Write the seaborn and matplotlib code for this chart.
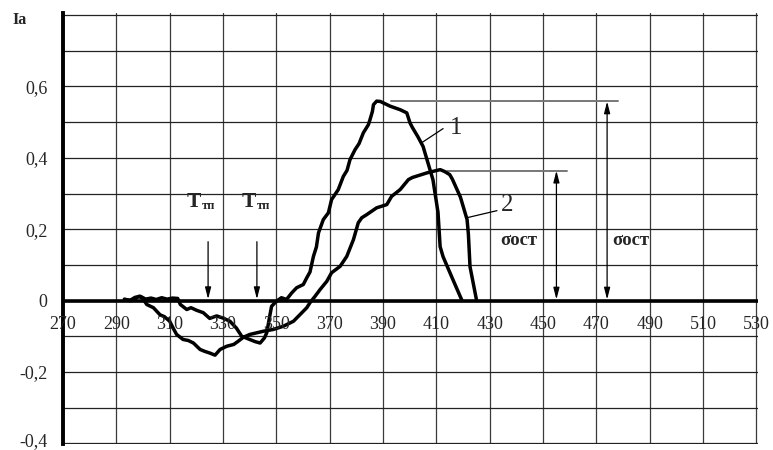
import matplotlib
matplotlib.use("Agg")
import matplotlib.pyplot as plt
import matplotlib.transforms as mtransforms
import seaborn as sns
import pandas as pd

# Temperature (x) and Ia (y) for the two samples
temp_1 = [293, 295, 297, 299, 301, 303, 305, 307, 309, 311, 313, 314, 316.4, 318, 320,
          322.6, 325, 327.6, 330, 332.6, 335, 337, 340, 342, 343.9, 345.5, 346.4, 347.6,
          348.2, 350, 351.9, 353.8, 355.7, 357.6, 360.1, 361.4, 362.6, 363.9, 365, 365.8,
          367.6, 369.5, 370.7, 373.2, 375.1, 376.5, 377.6, 379.5, 381, 382.6, 384.5,
          385.1, 386, 386.4, 387.6, 389, 390.1, 392.6, 396.4, 398.9, 400.1, 401, 403,
          405, 408.7, 410.6, 411.4, 412.5, 416, 419.6]
ia_1 = [0.004, 0.000, 0.009, 0.012, 0.004, 0.007, 0.003, 0.008, 0.004, 0.007, 0.006,
        -0.011, -0.025, -0.020, -0.027, -0.034, -0.050, -0.043, -0.049, -0.058, -0.077,
        -0.100, -0.109, -0.115, -0.119, -0.105, -0.090, -0.040, -0.016, -0.002, 0.008,
        0.003, 0.021, 0.036, 0.045, 0.064, 0.080, 0.124, 0.150, 0.190, 0.227, 0.246,
        0.283, 0.311, 0.348, 0.365, 0.395, 0.423, 0.440, 0.470, 0.493, 0.507, 0.530,
        0.549, 0.559, 0.558, 0.554, 0.545, 0.535, 0.526, 0.498, 0.485, 0.460, 0.432,
        0.339, 0.247, 0.151, 0.123, 0.062, 0.000]

temp_2 = [293.3, 296, 298.5, 300, 301.4, 303.9, 306.4, 308, 310, 311.5, 312.6, 315, 317,
          318.9, 321.4, 323, 325, 327, 328.9, 331.4, 334, 335.5, 337.6, 340, 345.1, 348.8,
          352.6, 356.4, 358.9, 361.4, 362.6, 364.5, 366.4, 368.9, 370.7, 373.9, 376.4,
          378.9, 380.7, 382, 383.9, 387.6, 391.4, 393.2, 396.4, 399.5, 401, 406.5, 411.4,
          413, 415, 416, 419, 421.5, 422, 422.6, 425]
ia_2 = [0.003, 0.000, 0.012, 0.005, -0.011, -0.020, -0.040, -0.045, -0.058, -0.080,
        -0.095, -0.109, -0.112, -0.119, -0.137, -0.142, -0.147, -0.153, -0.137, -0.128,
        -0.123, -0.115, -0.103, -0.095, -0.086, -0.081, -0.072, -0.058, -0.039, -0.020,
        -0.006, 0.012, 0.031, 0.054, 0.078, 0.096, 0.124, 0.171, 0.218, 0.232, 0.241,
        0.260, 0.269, 0.292, 0.311, 0.339, 0.345, 0.358, 0.367, 0.362, 0.353, 0.340,
        0.290, 0.227, 0.185, 0.095, 0.003]

x_ticks = list(range(270, 531, 20))
y_label_vals = [0.6, 0.4, 0.2, 0.0, -0.2, -0.4]
y_label_text = ["0,6", "0,4", "0,2", "0", "-0,2", "-0,4"]

# residual stress levels of the two peaks and the temperatures of the marks
sigma_levels = [0.558, 0.364]
sigma_span_x = [(393, 478), (414, 459)]
sigma_arrow_x = [474, 455]
t_marks = [324.4, 342.7]

sns.set_style("white")
plt.rcParams["font.family"] = ["Liberation Serif", "DejaVu Serif"]

fig = plt.figure(figsize=(7.73, 4.5), dpi=100)
ax = fig.add_axes([63 / 773, 6 / 450, 694.8 / 773, 431 / 450])

df = pd.concat([
    pd.DataFrame({"T": temp_1, "Ia": ia_1, "s": "1"}),
    pd.DataFrame({"T": temp_2, "Ia": ia_2, "s": "2"}),
])
sns.lineplot(data=df, x="T", y="Ia", units="s", estimator=None, sort=False,
             color="black", lw=2.5, ax=ax, zorder=5)

ax.set_xlim(270, 530.5)
ax.set_ylim(-0.402, 0.806)

# grid
for v in x_ticks:
    ax.axvline(v, color="#3a3a3a", lw=0.9, zorder=1)
for k in range(-4, 9):
    ax.axhline(k / 10, color="#222222", lw=0.9, zorder=1)
ax.axhline(0, color="black", lw=2.6, zorder=3)

for s in ["top", "right", "bottom"]:
    ax.spines[s].set_visible(False)
ax.spines["left"].set_linewidth(2.8)
ax.spines["left"].set_color("black")

ax.set_xticks([])
ax.set_yticks(y_label_vals)
ax.set_yticklabels(y_label_text, fontsize=13)
ax.tick_params(axis="y", length=0, pad=11)
ax.set_yticks([-0.4], minor=True)
ax.tick_params(axis="y", which="minor", length=6, width=1, color="black")
ax.set_xlabel("")
ax.set_ylabel("")
# keep the lowest label inside the canvas
low = ax.get_yticklabels()[-1]
low.set_transform(low.get_transform() +
                  mtransforms.ScaledTranslation(0, 4 / 100, fig.dpi_scale_trans))

for v in x_ticks:
    ax.text(v, -0.068, str(v), ha="center", va="center", fontsize=13, zorder=6)

fig.text(20 / 773, 1 - 20 / 450, "Ia", ha="center", va="center",
         fontsize=11.5, fontweight="bold")

# residual stress markers
for lvl, (xa, xb), xarr in zip(sigma_levels, sigma_span_x, sigma_arrow_x):
    ax.plot([xa, xb], [lvl, lvl], color="#777777", lw=1.4, zorder=4)
    ax.annotate("", xy=(xarr, 0.003), xytext=(xarr, lvl),
                arrowprops=dict(arrowstyle="<|-|>,head_length=0.7,head_width=0.18",
                                color="black", lw=0.9, shrinkA=0, shrinkB=0), zorder=6)
ax.text(433.9, 0.168, "σост", fontsize=13.5, fontweight="bold", va="center", ha="left")
ax.text(475.9, 0.168, "σост", fontsize=13.5, fontweight="bold", va="center", ha="left")

# curve labels with leader lines
ax.plot([404.6, 412.5], [0.443, 0.482], color="black", lw=0.9, zorder=6)
ax.text(417.4, 0.484, "1", fontsize=18, ha="center", va="center")
ax.plot([421.9, 432.7], [0.233, 0.252], color="black", lw=0.9, zorder=6)
ax.text(436.4, 0.268, "2", fontsize=18, ha="center", va="center")

# transition temperature marks
for xt in t_marks:
    ax.annotate("", xy=(xt, 0.004), xytext=(xt, 0.165),
                arrowprops=dict(arrowstyle="-|>,head_length=0.7,head_width=0.18",
                                color="black", lw=0.9, shrinkA=0, shrinkB=0), zorder=6)
for xT, xs in [(316.4, 322.0), (337.0, 342.6)]:
    ax.text(xT, 0.261, "T", fontsize=15.5, fontweight="bold", ha="left", va="baseline")
    ax.text(xs, 0.256, "тп", fontsize=9, fontweight="bold", ha="left", va="baseline")

fig.savefig("out.png", dpi=100)
